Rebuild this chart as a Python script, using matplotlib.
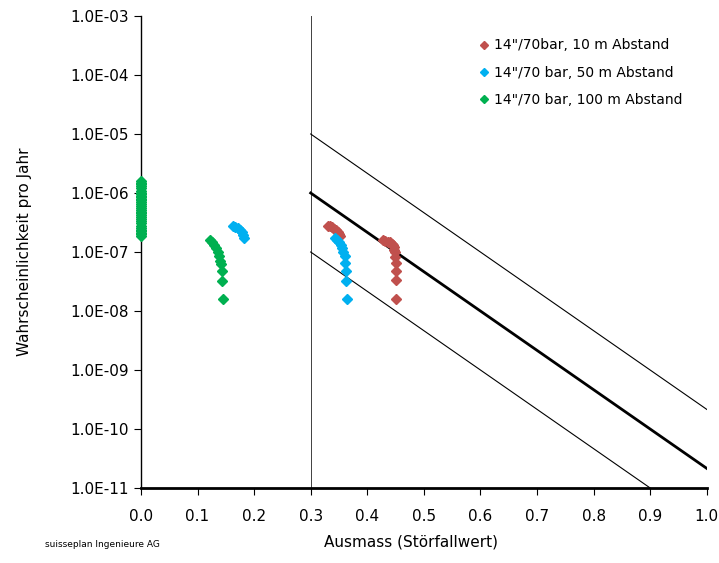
import math
import matplotlib
matplotlib.use("Agg")
import matplotlib.pyplot as plt
from matplotlib.ticker import FixedLocator, FuncFormatter
from matplotlib.lines import Line2D

plt.rcParams['font.family'] = ['DejaVu Sans']

# --- data ---
labels = ['14"/70bar, 10 m Abstand', '14"/70 bar, 50 m Abstand', '14"/70 bar, 100 m Abstand']
colors = ['#C0504D', '#00B0F0', '#00B050']

# 10 m Abstand
red_x = [0.330, 0.334, 0.338, 0.342, 0.345, 0.348, 0.350, 0.352,
         0.428, 0.432, 0.436, 0.440, 0.443, 0.445, 0.447, 0.448, 0.449,
         0.449, 0.450, 0.450, 0.451, 0.451]
red_y = [2.8e-7, 2.75e-7, 2.65e-7, 2.5e-7, 2.35e-7, 2.2e-7, 2.05e-7, 1.9e-7,
         1.6e-7, 1.55e-7, 1.5e-7, 1.45e-7, 1.38e-7, 1.3e-7, 1.2e-7, 1.1e-7, 1.0e-7,
         8.3e-8, 6.4e-8, 4.8e-8, 3.3e-8, 1.6e-8]

# 50 m Abstand
blue_x = [0.163, 0.167, 0.171, 0.175, 0.178, 0.181, 0.183,
          0.343, 0.347, 0.350, 0.353, 0.356, 0.358, 0.360, 0.361, 0.362, 0.363, 0.364]
blue_y = [2.8e-7, 2.7e-7, 2.55e-7, 2.35e-7, 2.15e-7, 1.95e-7, 1.75e-7,
          1.75e-7, 1.6e-7, 1.45e-7, 1.3e-7, 1.15e-7, 1.0e-7, 8.5e-8, 6.5e-8, 4.8e-8, 3.2e-8, 1.6e-8]

# 100 m Abstand
green_zero_y = [1.6e-6, 1.5e-6, 1.4e-6, 1.3e-6, 1.2e-6, 1.1e-6, 1.0e-6, 9.5e-7, 9e-7,
                8.5e-7, 8e-7, 7.5e-7, 7e-7, 6.5e-7, 6e-7, 5.6e-7, 5.2e-7, 4.8e-7, 4.5e-7,
                4.2e-7, 3.9e-7, 3.6e-7, 3.3e-7, 3.05e-7, 2.8e-7, 2.6e-7, 2.4e-7, 2.25e-7,
                2.1e-7, 2.0e-7, 1.9e-7]
green_x = [0.0] * len(green_zero_y) + [0.122, 0.126, 0.130, 0.133, 0.136, 0.138, 0.140,
                                       0.142, 0.144, 0.144, 0.145]
green_y = green_zero_y + [1.6e-7, 1.45e-7, 1.3e-7, 1.15e-7, 1.0e-7, 8.5e-8, 7.0e-8,
                          6.2e-8, 4.7e-8, 3.2e-8, 1.6e-8]

series_x = [red_x, blue_x, green_x]
series_y = [red_y, blue_y, green_y]

# acceptability criterion lines
crit_upper_x = [0.3, 1.0]
crit_upper_y = [1e-5, 2.15e-10]
crit_mid_x = [0.3, 1.0]
crit_mid_y = [1e-6, 2.15e-11]
crit_low_x = [0.3, 0.9]
crit_low_y = [1e-7, 1e-11]

fig = plt.figure(figsize=(7.19, 5.63), dpi=100)
ax = fig.add_axes([0.196, 0.1332, 0.787, 0.8384])

ax.set_yscale('log')
ax.set_xlim(0, 1.0)
ax.set_ylim(1e-11, 1e-3)

# vertical line at 0.3
ax.plot([0.3, 0.3], [1e-11, 1e-3], color='#404040', lw=0.7, zorder=2)
ax.plot(crit_upper_x, crit_upper_y, color='black', lw=0.8, zorder=2)
ax.plot(crit_mid_x, crit_mid_y, color='black', lw=2.0, zorder=2)
ax.plot(crit_low_x, crit_low_y, color='black', lw=0.8, zorder=2)

for xs, ys, c in zip(series_x, series_y, colors):
    ax.plot(xs, ys, linestyle='none', marker='D', ms=4.8, color=c, mec=c, zorder=3, clip_on=False)

ax.spines['top'].set_visible(False)
ax.spines['right'].set_visible(False)
ax.spines['left'].set_linewidth(1.0)
ax.spines['bottom'].set_linewidth(2.0)

ax.yaxis.set_major_locator(FixedLocator([10.0 ** e for e in range(-11, -2)]))
ax.yaxis.set_minor_locator(FixedLocator([]))
ax.yaxis.set_major_formatter(FuncFormatter(lambda v, p: '1.0E-%02d' % round(-math.log10(v))))
ax.set_xticks([i / 10 for i in range(11)])
ax.xaxis.set_major_formatter(FuncFormatter(lambda v, p: '%.1f' % v))
ax.tick_params(axis='both', direction='out', length=5, width=0.8, labelsize=11, colors='black')
ax.tick_params(axis='x', pad=10)

ax.set_ylabel('Wahrscheinlichkeit pro Jahr', fontsize=11, labelpad=28)
fig.text(0.572, 0.024, 'Ausmass (Störfallwert)', fontsize=11, ha='center', va='bottom')
fig.text(0.063, 0.025, 'suisseplan Ingenieure AG', fontsize=6.5, ha='left', va='bottom')

handles = [Line2D([], [], linestyle='none', marker='D', ms=4, color=c) for c in colors]
ax.legend(handles, labels, loc='upper left', bbox_to_anchor=(0.585, 0.97), frameon=False,
          fontsize=10, handlelength=0.6, handletextpad=0.4, labelspacing=0.95, borderaxespad=0.2)

fig.savefig('out.png', dpi=100)
